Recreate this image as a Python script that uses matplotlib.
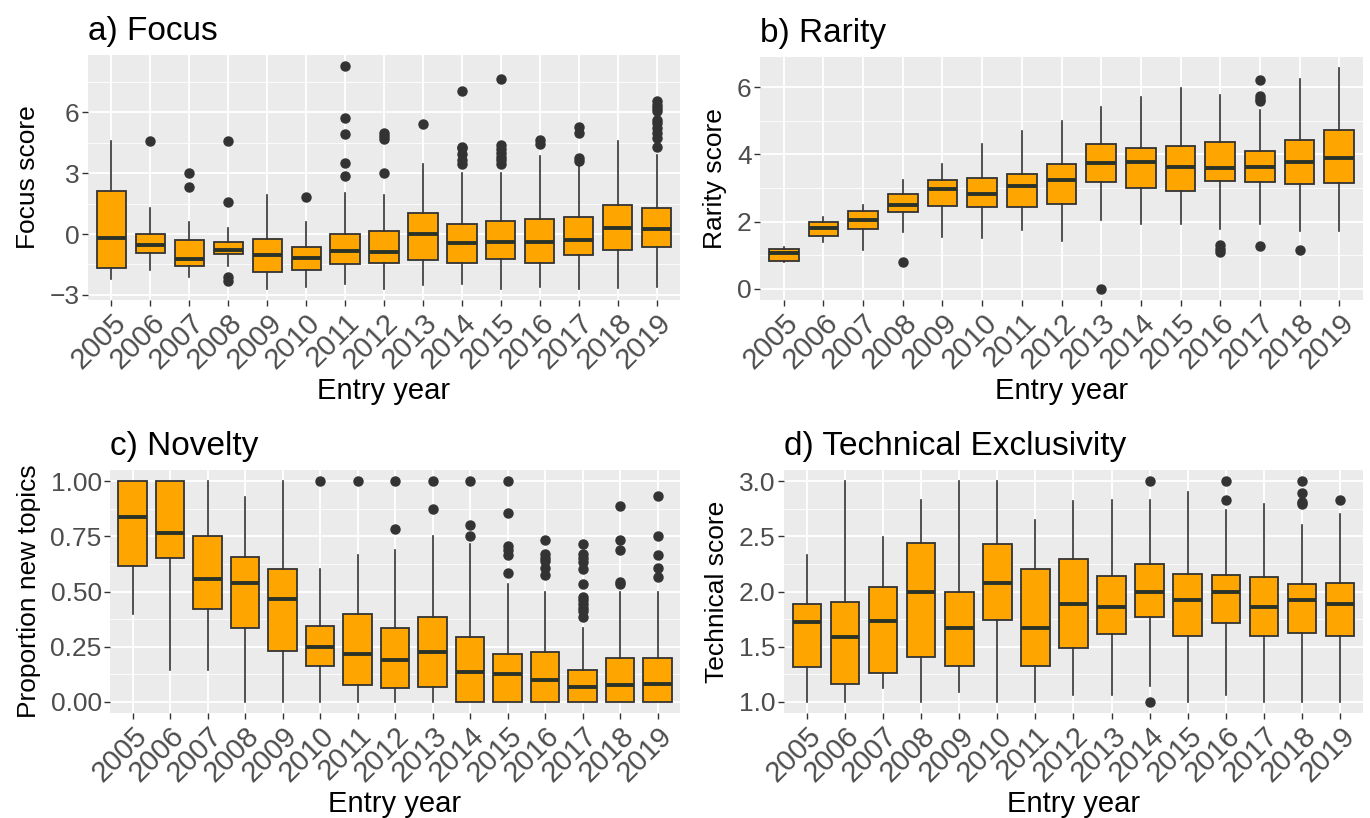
import matplotlib
matplotlib.use('Agg')
import matplotlib.pyplot as plt
from matplotlib.ticker import FixedLocator, FormatStrFormatter

plt.rcParams['font.family'] = ['Liberation Sans', 'DejaVu Sans']

years = ['2005', '2006', '2007', '2008', '2009', '2010', '2011', '2012',
         '2013', '2014', '2015', '2016', '2017', '2018', '2019']

# ---- a) Focus ----
focus_q1 = [-1.66, -0.92, -1.58, -0.99, -1.85, -1.78, -1.47, -1.45, -1.30, -1.43, -1.22, -1.43, -1.04, -0.79, -0.66]
focus_med = [-0.18, -0.53, -1.22, -0.79, -1.05, -1.19, -0.84, -0.87, -0.02, -0.43, -0.41, -0.41, -0.30, 0.28, 0.26]
focus_q3 = [2.14, -0.02, -0.30, -0.41, -0.26, -0.66, -0.02, 0.16, 1.04, 0.51, 0.64, 0.76, 0.84, 1.43, 1.30]
focus_lo = [-2.24, -1.78, -2.11, -1.58, -2.69, -2.60, -2.47, -2.69, -2.52, -2.47, -2.69, -2.60, -2.69, -2.64, -2.60]
focus_hi = [4.57, 1.27, 0.61, 0.28, 1.93, 0.61, 2.01, 1.93, 3.46, 3.00, 3.03, 3.86, 3.86, 4.57, 3.91]
focus_out = [[], [4.57], [3.03, 2.34], [4.57, 1.60, -2.14, -2.30], [], [1.81],
             [8.27, 5.74, 4.93, 3.48, 2.84], [4.98, 4.81, 4.68, 3.03], [5.44],
             [7.04, 4.29, 4.24, 3.96, 3.63, 3.46], [7.65, 4.40, 4.19, 3.99, 3.79, 3.63, 3.46],
             [4.65, 4.45], [5.27, 4.98, 3.74, 3.58], [],
             [6.54, 6.38, 6.21, 6.05, 5.64, 5.47, 5.22, 4.98, 4.73, 4.29]]

# ---- b) Rarity ----
rarity_q1 = [0.83, 1.57, 1.77, 2.30, 2.47, 2.44, 2.44, 2.53, 3.19, 3.00, 2.91, 3.22, 3.18, 3.13, 3.15]
rarity_med = [1.07, 1.82, 2.04, 2.51, 2.96, 2.81, 3.05, 3.23, 3.74, 3.77, 3.62, 3.59, 3.64, 3.79, 3.90]
rarity_q3 = [1.20, 1.99, 2.32, 2.81, 3.23, 3.31, 3.43, 3.72, 4.30, 4.20, 4.24, 4.37, 4.10, 4.42, 4.73]
rarity_lo = [0.80, 1.40, 1.17, 1.69, 1.54, 1.51, 1.74, 1.43, 2.04, 1.92, 1.92, 1.77, 1.94, 1.71, 1.72]
rarity_hi = [1.25, 2.14, 2.51, 3.23, 3.72, 4.30, 4.69, 5.01, 5.41, 5.70, 5.98, 5.78, 5.31, 6.25, 6.57]
rarity_out = [[], [], [], [0.81], [], [], [], [], [0.0], [], [],
              [1.30, 1.20, 1.10], [6.22, 5.75, 5.65, 5.58, 1.27], [1.17], []]

# ---- c) Novelty ----
novelty_q1 = [0.615, 0.650, 0.420, 0.333, 0.229, 0.165, 0.078, 0.065, 0.069, 0.0, 0.0, 0.0, 0.0, 0.0, 0.0]
novelty_med = [0.835, 0.767, 0.556, 0.537, 0.465, 0.251, 0.218, 0.190, 0.224, 0.135, 0.126, 0.100, 0.066, 0.077, 0.083]
novelty_q3 = [1.0, 1.0, 0.750, 0.656, 0.600, 0.346, 0.400, 0.334, 0.385, 0.296, 0.215, 0.227, 0.143, 0.200, 0.200]
novelty_lo = [0.400, 0.143, 0.143, 0.0, 0.0, 0.0, 0.0, 0.0, 0.0, 0.0, 0.0, 0.0, 0.0, 0.0, 0.0]
novelty_hi = [1.0, 1.0, 1.0, 0.928, 1.0, 0.600, 0.665, 0.690, 0.749, 0.713, 0.532, 0.498, 0.334, 0.500, 0.500]
novelty_out = [[], [], [], [], [], [1.0], [1.0], [1.0, 0.785], [1.0, 0.872],
               [1.0, 0.80, 0.75], [1.0, 0.856, 0.705, 0.690, 0.666, 0.585],
               [0.733, 0.672, 0.653, 0.638, 0.605, 0.574],
               [0.717, 0.672, 0.650, 0.635, 0.600, 0.532, 0.477, 0.462, 0.444, 0.424, 0.410, 0.386],
               [0.887, 0.733, 0.690, 0.544, 0.532],
               [0.932, 0.750, 0.666, 0.608, 0.567]]

# ---- d) Technical Exclusivity ----
tech_q1 = [1.316, 1.165, 1.262, 1.410, 1.330, 1.743, 1.330, 1.493, 1.617, 1.767, 1.600, 1.713, 1.600, 1.620, 1.600]
tech_med = [1.722, 1.592, 1.737, 2.000, 1.668, 2.074, 1.668, 1.887, 1.863, 2.000, 1.923, 2.000, 1.863, 1.923, 1.887]
tech_q3 = [1.884, 1.908, 2.038, 2.440, 2.000, 2.430, 2.200, 2.290, 2.143, 2.251, 2.155, 2.146, 2.134, 2.070, 2.074]
tech_lo = [1.0, 1.0, 1.130, 1.0, 1.087, 1.0, 1.0, 1.066, 1.066, 1.140, 1.0, 1.066, 1.0, 1.0, 1.0]
tech_hi = [2.330, 3.0, 2.495, 2.830, 3.0, 3.0, 2.645, 2.817, 2.830, 2.830, 2.900, 2.735, 2.795, 2.600, 2.700]
tech_out = [[], [], [], [], [], [], [], [], [], [3.0, 1.0], [], [3.0, 2.83], [],
            [3.0, 2.89, 2.81, 2.79], [2.83]]

FILL = '#FFA500'
EDGE = '#333333'
PANEL = '#EBEBEB'
TICKTXT = '#4D4D4D'


def make_stats(q1, med, q3, lo, hi, out):
    return [dict(q1=a, med=b, q3=c, whislo=d, whishi=e, fliers=f)
            for a, b, c, d, e, f in zip(q1, med, q3, lo, hi, out)]


def panel(ax, stats, ylim, major, minor, fmt, title, ylabel):
    ax.set_facecolor(PANEL)
    for s in ax.spines.values():
        s.set_visible(False)
    pos = list(range(1, len(years) + 1))
    ax.bxp(stats, positions=pos, widths=0.75, patch_artist=True, showcaps=False,
           boxprops=dict(facecolor=FILL, edgecolor=EDGE, linewidth=1.3),
           medianprops=dict(color='#2b3328', linewidth=2.8, solid_capstyle='butt'),
           whiskerprops=dict(color=EDGE, linewidth=1.2),
           flierprops=dict(marker='o', markerfacecolor=EDGE, markeredgecolor=EDGE,
                           markersize=6.5, linestyle='none'))
    ax.set_xlim(0.4, len(years) + 0.6)
    ax.set_ylim(*ylim)
    ax.set_xticks(pos)
    ax.set_xticklabels(years, rotation=45, ha='right', va='top', rotation_mode='anchor')
    ax.yaxis.set_major_locator(FixedLocator(major))
    ax.yaxis.set_minor_locator(FixedLocator(minor))
    ax.yaxis.set_major_formatter(FormatStrFormatter(fmt))
    ax.set_axisbelow(True)
    ax.grid(which='major', color='white', linewidth=1.3)
    ax.grid(which='minor', axis='y', color='white', linewidth=0.6)
    ax.tick_params(which='major', length=4, width=1.0, color=EDGE, labelcolor=TICKTXT)
    ax.tick_params(which='minor', length=0)
    ax.tick_params(axis='x', labelsize=21, pad=2)
    ax.tick_params(axis='y', labelsize=19, pad=2)
    ax.set_title(title, loc='left', fontsize=24, pad=11)
    ax.set_xlabel('Entry year', fontsize=21, labelpad=2)
    ax.set_ylabel(ylabel, fontsize=19, labelpad=7)


fig = plt.figure(figsize=(13.70, 8.18), dpi=100)
W, H = 1370.0, 818.0
ax_a = fig.add_axes([88 / W, (H - 300) / H, 592 / W, 245 / H])
ax_b = fig.add_axes([760 / W, (H - 300) / H, 603 / W, 243 / H])
ax_c = fig.add_axes([110 / W, (H - 713) / H, 570 / W, 243 / H])
ax_d = fig.add_axes([784 / W, (H - 713) / H, 579 / W, 243 / H])

panel(ax_a, make_stats(focus_q1, focus_med, focus_q3, focus_lo, focus_hi, focus_out),
      (-3.25, 8.82), [-3, 0, 3, 6], [-1.5, 1.5, 4.5, 7.5], '%d', 'a) Focus', 'Focus score')
panel(ax_b, make_stats(rarity_q1, rarity_med, rarity_q3, rarity_lo, rarity_hi, rarity_out),
      (-0.33, 6.9), [0, 2, 4, 6], [1, 3, 5], '%d', 'b) Rarity', 'Rarity score')
panel(ax_c, make_stats(novelty_q1, novelty_med, novelty_q3, novelty_lo, novelty_hi, novelty_out),
      (-0.05, 1.05), [0, 0.25, 0.5, 0.75, 1.0], [0.125, 0.375, 0.625, 0.875], '%.2f',
      'c) Novelty', 'Proportion new topics')
panel(ax_d, make_stats(tech_q1, tech_med, tech_q3, tech_lo, tech_hi, tech_out),
      (0.9, 3.1), [1.0, 1.5, 2.0, 2.5, 3.0], [1.25, 1.75, 2.25, 2.75], '%.1f',
      'd) Technical Exclusivity', 'Technical score')

# unicode minus for negative ticks in panel a
ax_a.set_yticklabels(['\u22123', '0', '3', '6'])

fig.savefig('out.png', dpi=100, facecolor='white')
